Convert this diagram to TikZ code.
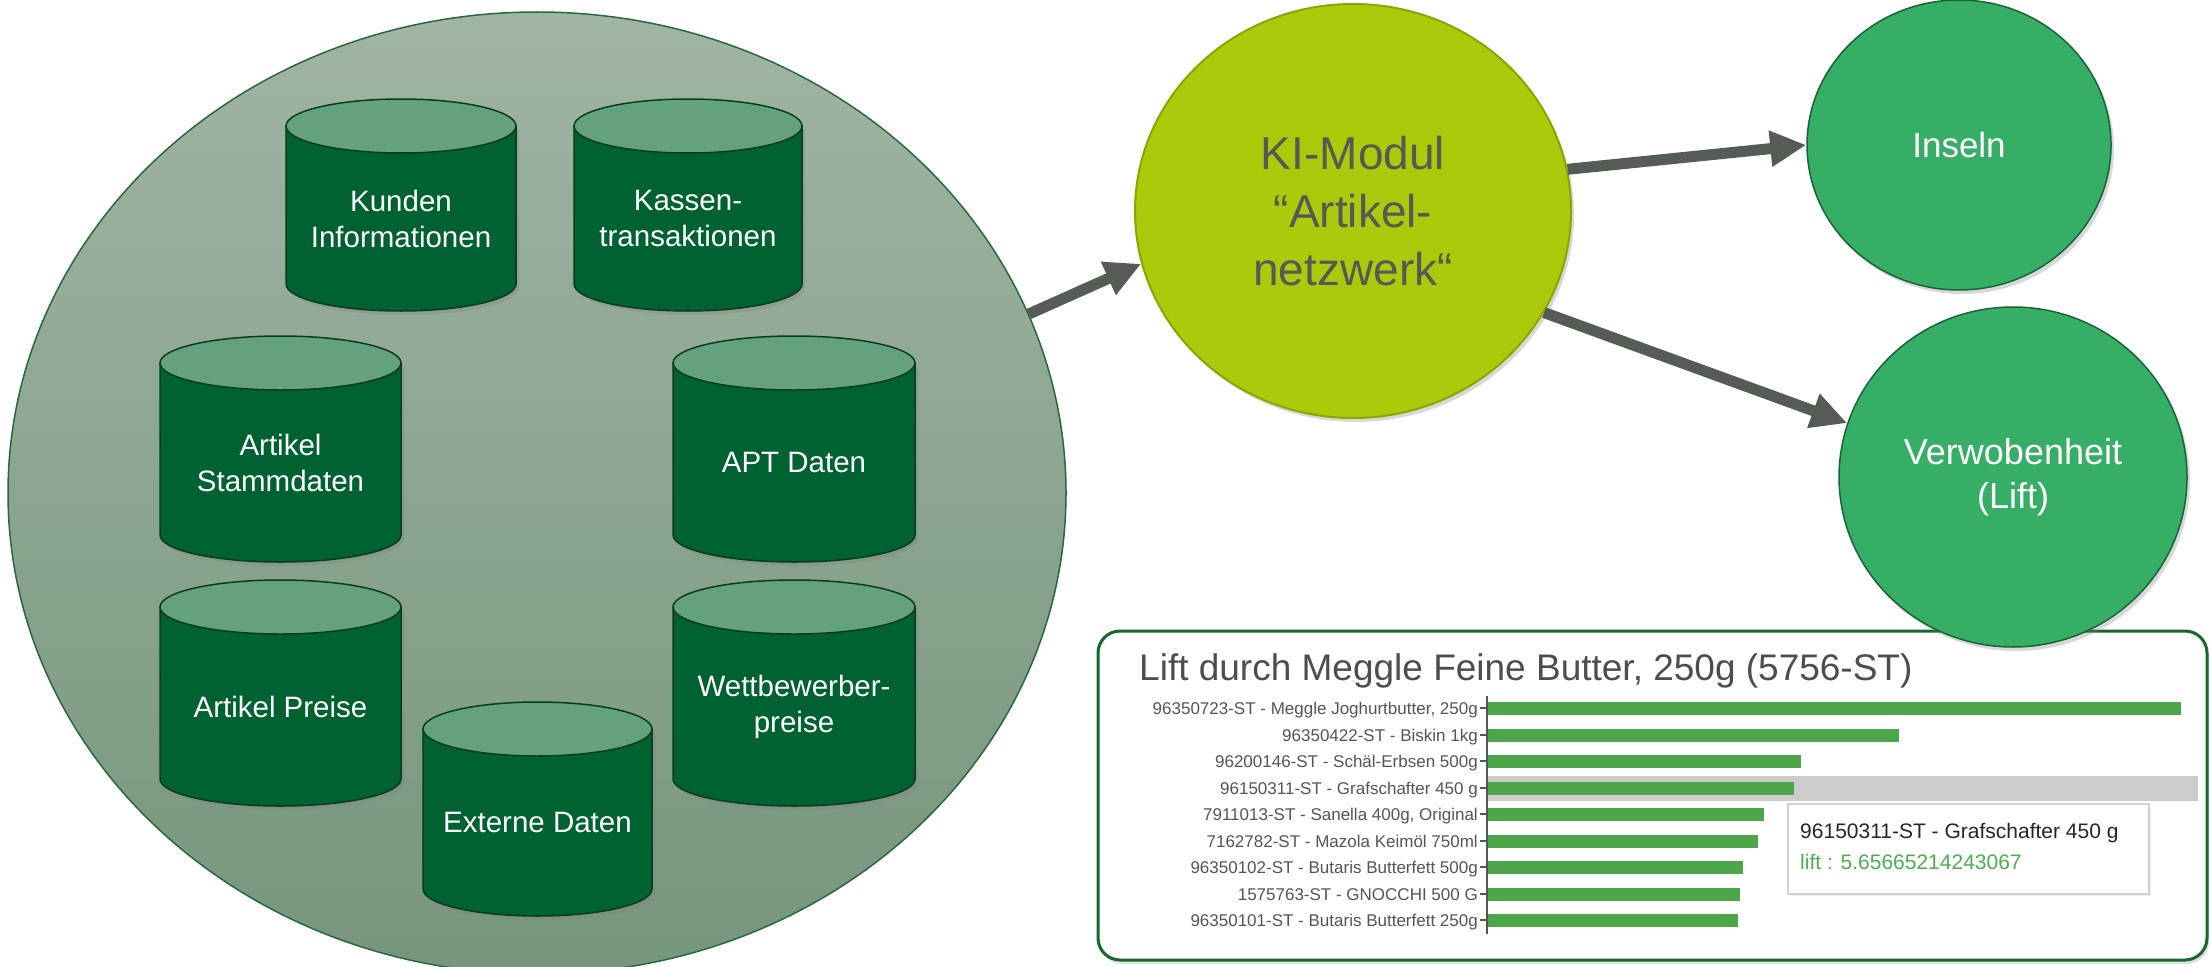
\documentclass[tikz,border=0pt]{standalone}
\usepackage{fontspec}
\setmainfont{Liberation Sans}
\usetikzlibrary{shapes.geometric,shadows,arrows.meta}
\definecolor{poolTop}{RGB}{160,181,163}
\definecolor{poolBot}{RGB}{118,150,124}
\definecolor{poolLine}{RGB}{40,105,60}
\definecolor{cylBody}{RGB}{0,98,48}
\definecolor{cylTop}{RGB}{100,161,125}
\definecolor{cylLine}{RGB}{10,60,28}
\definecolor{kiFill}{RGB}{173,201,12}
\definecolor{kiLine}{RGB}{140,165,0}
\definecolor{kiText}{RGB}{85,90,85}
\definecolor{outFill}{RGB}{55,174,101}
\definecolor{outLine}{RGB}{25,100,55}
\definecolor{arrowGray}{RGB}{85,91,85}
\definecolor{boxLine}{RGB}{20,105,45}
\definecolor{barGreen}{RGB}{78,166,75}
\definecolor{lblGray}{RGB}{85,85,85}
\definecolor{titleGray}{RGB}{77,77,77}
\definecolor{bandGray}{RGB}{204,204,204}
\definecolor{tipGreen}{RGB}{76,175,80}
\definecolor{tipBorder}{RGB}{208,208,208}

\newcommand\dbcyl[6]{%
  \path[shadowed, fill=cylBody, draw=cylLine, line width=1.5pt]
    ({#2},{#4+27}) -- ({#2},{#5-27})
    arc[start angle=180, end angle=360, x radius={(#3-#2)*0.5pt}, y radius=27pt]
    -- ({#3},{#4+27}) -- cycle;
  \path[fill=cylTop, draw=cylLine, line width=1.5pt]
    ({(#2+#3)/2},{#4+27}) ellipse[x radius={(#3-#2)*0.5pt}, y radius=27pt];
  \node[cyltext] (#1) at ({(#2+#3)/2},{(#4+#5+27)/2}) {#6};
}
\newcommand\chartrow[4]{% name, y, bar end, label
  \fill[barGreen] (1488,{#2-6.5}) rectangle (#3,{#2+6.5});
  \draw[lblGray, line width=1.2pt] (1480,#2) -- (1487,#2);
  \node[lbl] (#1) at (1478,{#2+6}) {#4};
}

\begin{document}
\begin{tikzpicture}[x=1pt, y=-1pt,
  shadowed/.style={drop shadow={opacity=0.3, shadow xshift=3pt, shadow yshift=-4pt}},
  cyltext/.style={text=white, align=center, inner sep=0pt, font=\fontsize{29.5}{36}\selectfont},
  bignode/.style={ellipse, inner sep=0pt},
  arr/.style={draw=arrowGray, line width=11pt, -{Triangle[length=36pt, width=34pt]}},
  lbl/.style={text=lblGray, font=\fontsize{17}{20}\selectfont, anchor=base east, inner sep=0pt},
]
\useasboundingbox (0,0) rectangle (2210,966);
\clip (0,0) rectangle (2210,966);
\fill[white] (0,0) rectangle (2210,966);

% data pool
\node[bignode, top color=poolTop, bottom color=poolBot, draw=poolLine, line width=1.5pt,
      minimum width=1058pt, minimum height=962pt] (pool) at (537,493) {};

\dbcyl{kunden}{286}{516}{99}{311}{Kunden\\Informationen}
\dbcyl{kassen}{574}{802}{99}{311}{Kassen-\\transaktionen}
\dbcyl{stamm}{160}{401}{336}{562}{Artikel\\Stammdaten}
\dbcyl{apt}{673}{915}{336}{562}{APT Daten}
\dbcyl{preise}{160}{401}{580}{806}{Artikel Preise}
\dbcyl{wett}{673}{915}{580}{806}{Wettbewerber-\\preise}
\dbcyl{extern}{423}{652}{702}{916}{Externe Daten}

% chart box
\node[draw=boxLine, line width=3pt, rounded corners=22pt, fill=white,
      drop shadow={opacity=0.25, shadow xshift=2pt, shadow yshift=-4pt},
      minimum width=1109pt, minimum height=329pt, inner sep=0pt] (chart) at (1652.5,795.5) {};

% result ellipses
\node[bignode, shadowed, fill=kiFill, draw=kiLine, line width=2pt,
      minimum width=436pt, minimum height=414pt, text=kiText, align=center,
      font=\fontsize{46}{58}\selectfont] (ki) at (1353,211) {KI-Modul\\“Artikel-\\netzwerk“};
\node[bignode, shadowed, fill=outFill, draw=outLine, line width=1.5pt,
      minimum width=304pt, minimum height=290pt, text=white,
      font=\fontsize{35}{44}\selectfont] (inseln) at (1959,145) {Inseln};
\node[bignode, shadowed, fill=outFill, draw=outLine, line width=1.5pt,
      minimum width=348pt, minimum height=340pt, text=white, align=center,
      font=\fontsize{36}{44}\selectfont] (verw) at (2013,477) {Verwobenheit\\(Lift)};

% arrows
\draw[arr] (pool.20) -- (ki.194);
\draw[arr] (ki.11) -- (inseln.180);
\draw[arr] (ki.332) -- (verw.162);

% chart content
\node[anchor=base west, inner sep=0pt, text=titleGray, font=\fontsize{37}{44}\selectfont]
  (title) at (1139,680) {Lift durch Meggle Feine Butter, 250g (5756-ST)};
\fill[bandGray] (1488,776) rectangle (2198,801);
\draw[lblGray, line width=1.5pt] (1487,696) -- (1487,934);
\chartrow{r1}{708}{2181}{96350723-ST - Meggle Joghurtbutter, 250g}
\chartrow{r2}{735}{1899}{96350422-ST - Biskin 1kg}
\chartrow{r3}{761}{1801}{96200146-ST - Schäl-Erbsen 500g}
\chartrow{r4}{788}{1794}{96150311-ST - Grafschafter 450 g}
\chartrow{r5}{814}{1764}{7911013-ST - Sanella 400g, Original}
\chartrow{r6}{841}{1758}{7162782-ST - Mazola Keimöl 750ml}
\chartrow{r7}{867}{1743}{96350102-ST - Butaris Butterfett 500g}
\chartrow{r8}{894}{1740}{1575763-ST - GNOCCHI 500 G}
\chartrow{r9}{920}{1738}{96350101-ST - Butaris Butterfett 250g}

% tooltip
\node[draw=tipBorder, fill=white, line width=1.5pt, anchor=north west, inner sep=0pt,
      drop shadow={opacity=0.12, shadow xshift=2pt, shadow yshift=-2pt},
      minimum width=361pt, minimum height=90pt] (tip) at (1787,803) {};
\node[anchor=base west, inner sep=0pt, text=black!85, font=\fontsize{21}{25}\selectfont]
  (tipname) at (1800,838) {96150311-ST - Grafschafter 450 g};
\node[anchor=base west, inner sep=0pt, text=tipGreen, font=\fontsize{21}{25}\selectfont]
  (tiplift) at (1800,869) {lift : 5.65665214243067};
\end{tikzpicture}
\end{document}
